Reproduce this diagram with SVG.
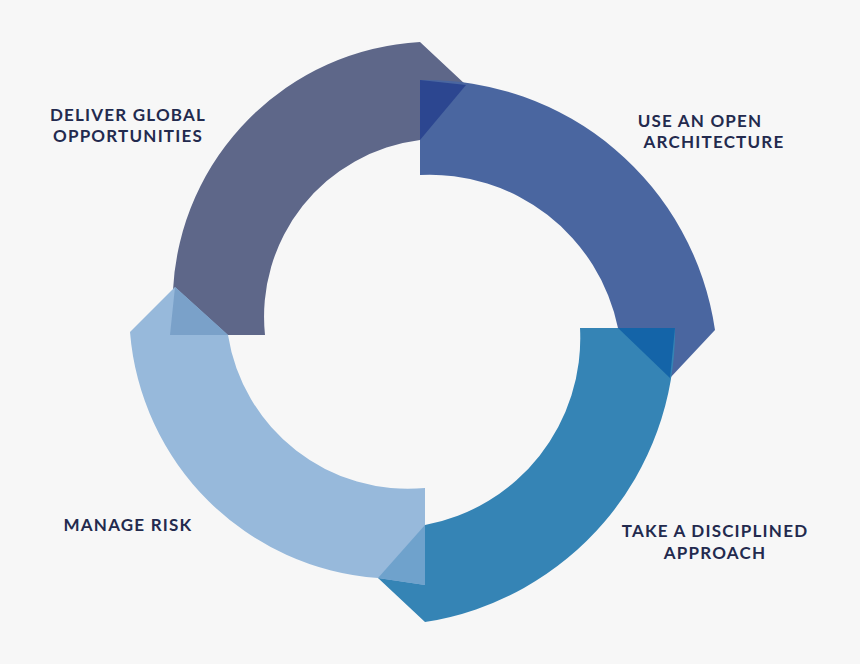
<svg xmlns="http://www.w3.org/2000/svg" width="860" height="664" viewBox="0 0 860 664">
<style>
.t{font-family:"Lato","Liberation Sans",sans-serif;font-weight:bold;font-size:17px;fill:#232a4e;letter-spacing:1.2px;text-anchor:middle}
</style>
<rect width="860" height="664" fill="#f7f7f7"/>
<g id="connectors"/>
<g id="seg-deliver">
<path d="M173,290 A262,262 0 0 1 420,42 L466,85 L420,140 A178,178 0 0 0 265,335 L170,335 Z" fill="#5e6789"/>
</g>
<g id="seg-open">
<path d="M420,80 A292,292 0 0 1 715,330 L670,378 L618,328 A192,192 0 0 0 420,175 Z" fill="#4a66a0"/>
<path d="M420,80 L466,85 L420,140 Z" fill="#2c4690"/>
</g>
<g id="seg-disciplined">
<path d="M580,328 L675,328 A295,295 0 0 1 425,622 L378,578 L425,525 A190,190 0 0 0 580,328 Z" fill="#3584b5"/>
<path d="M618,328 L675,328 L670,378 Z" fill="#1464a8"/>
</g>
<g id="seg-risk">
<path d="M425,488 L425,585 L378,578 A268,268 0 0 1 130,332 L175,287 L228,335 A182,182 0 0 0 425,488 Z" fill="#97b9db"/>
<path d="M425,525 L425,585 L378,578 Z" fill="#6fa2cc"/>
<path d="M170,335 L175,287 L228,335 Z" fill="#7aa1c9"/>
</g>
<g id="labels">
<text class="t" x="128" y="121">DELIVER GLOBAL</text>
<text class="t" x="128" y="142">OPPORTUNITIES</text>
<text class="t" x="700" y="127">USE AN OPEN</text>
<text class="t" x="714" y="148">ARCHITECTURE</text>
<text class="t" x="128" y="531">MANAGE RISK</text>
<text class="t" x="715" y="537">TAKE A DISCIPLINED</text>
<text class="t" x="715" y="559">APPROACH</text>
</g>
</svg>
